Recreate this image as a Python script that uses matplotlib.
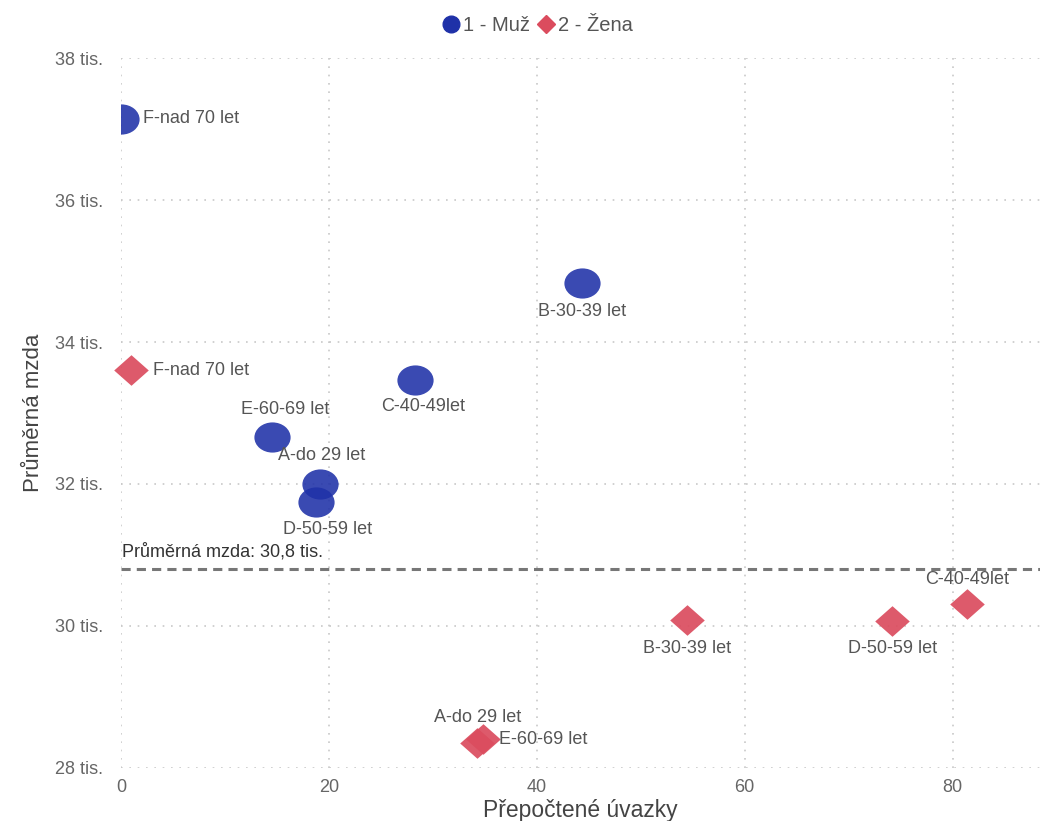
import numpy as np
import matplotlib.pyplot as plt
from matplotlib.path import Path
from matplotlib.lines import Line2D

plt.rcParams['font.family'] = ['Liberation Sans', 'DejaVu Sans']

# data
men_labels = ['F-nad 70 let', 'B-30-39 let', 'C-40-49let', 'E-60-69 let', 'A-do 29 let', 'D-50-59 let']
men_fte = [0.0, 44.4, 28.3, 14.5, 19.2, 18.8]
men_wage = [37.15, 34.83, 33.47, 32.66, 32.0, 31.75]

women_labels = ['F-nad 70 let', 'B-30-39 let', 'D-50-59 let', 'C-40-49let', 'A-do 29 let', 'E-60-69 let']
women_fte = [1.0, 54.5, 74.2, 81.4, 34.3, 34.8]
women_wage = [33.6, 30.08, 30.07, 30.3, 28.35, 28.4]

avg_wage = 30.8
y_ticks = [28, 30, 32, 34, 36, 38]
x_ticks = [0, 20, 40, 60, 80]

blue = '#1f31a8'
red = '#db4c5e'
grey = '#666666'

# slightly wide markers
circ = Path.unit_circle()
ellipse = Path(circ.vertices * np.array([1.2, 1.0]), circ.codes)
diamond = Path([(0, 1), (1.13, 0), (0, -1), (-1.13, 0), (0, 1)],
               [Path.MOVETO, Path.LINETO, Path.LINETO, Path.LINETO, Path.CLOSEPOLY])

fig = plt.figure(figsize=(10.42, 8.21), dpi=100)
ax = fig.add_axes([0.116, 0.065, 0.882, 0.864])

ax.scatter(men_fte, men_wage, s=680, marker=ellipse, color=blue, alpha=0.88, linewidths=0, zorder=3)
ax.scatter(women_fte, women_wage, s=620, marker=diamond, color=red, alpha=0.92, linewidths=0,
           zorder=3, clip_on=False)

# label offsets in points (dx, dy, ha, va)
men_off = [(16, 0, 'left', 'center'), (0, -14, 'center', 'top'), (6, -13, 'center', 'top'),
           (10, 14, 'center', 'bottom'), (1, 14, 'center', 'bottom'), (8, -14, 'center', 'top')]
women_off = [(16, 0, 'left', 'center'), (0, -14, 'center', 'top'), (0, -14, 'center', 'top'),
             (0, 12, 'center', 'bottom'), (0, 12, 'center', 'bottom'), (12, 0, 'left', 'center')]

for lab, x, y, (dx, dy, ha, va) in zip(men_labels, men_fte, men_wage, men_off):
    ax.annotate(lab, (x, y), xytext=(dx, dy), textcoords='offset points',
                ha=ha, va=va, fontsize=13, color='#555555', zorder=4)
for lab, x, y, (dx, dy, ha, va) in zip(women_labels, women_fte, women_wage, women_off):
    ax.annotate(lab, (x, y), xytext=(dx, dy), textcoords='offset points',
                ha=ha, va=va, fontsize=13, color='#555555', zorder=4)

# average line
ax.axhline(avg_wage, color='#777777', linestyle=(0, (3, 2)), linewidth=2.2, zorder=2)
ax.text(0.1, avg_wage + 0.12, 'Průměrná mzda: 30,8 tis.', fontsize=13, color='#333333',
        ha='left', va='bottom')

ax.set_xlim(0, 88.4)
ax.set_ylim(28, 38)
ax.set_xticks(x_ticks)
ax.set_yticks(y_ticks)
ax.set_yticklabels([f'{t} tis.' for t in y_ticks])
ax.tick_params(length=0, labelsize=13, labelcolor=grey)
ax.tick_params(axis='y', pad=13)
ax.tick_params(axis='x', pad=8)
ax.grid(True, color='#c8c8c8', linestyle=(0, (1, 4)), linewidth=1.2)
ax.set_axisbelow(True)
for s in ax.spines.values():
    s.set_visible(False)

ax.set_xlabel('Přepočtené úvazky', fontsize=16.5, color='#444444', labelpad=2)
ax.set_ylabel('Průměrná mzda', fontsize=16, color='#444444', labelpad=8)

handles = [Line2D([], [], marker='o', color=blue, linestyle='', markersize=12),
           Line2D([], [], marker='D', color=red, linestyle='', markersize=9)]
fig.legend(handles, ['1 - Muž', '2 - Žena'], loc='center', bbox_to_anchor=(0.515, 0.969),
           ncol=2, frameon=False, fontsize=14.5, labelcolor='#555555',
           handletextpad=0.1, columnspacing=0.3, handlelength=1.0)

fig.savefig('out.png', dpi=100)
